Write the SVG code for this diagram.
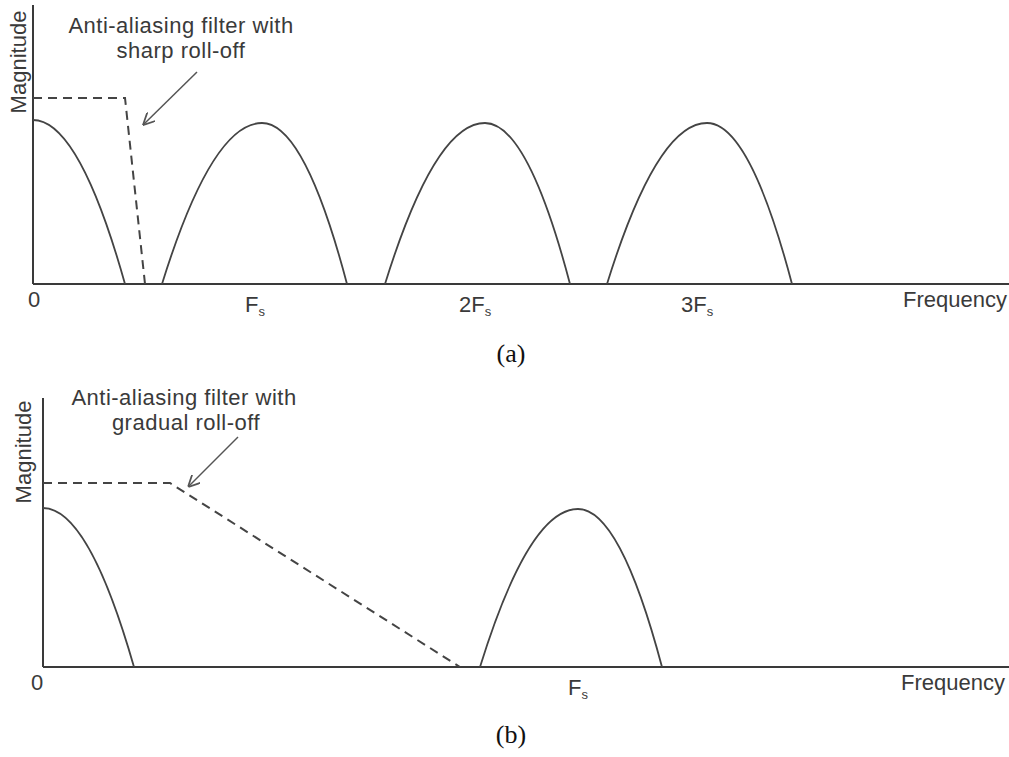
<svg xmlns="http://www.w3.org/2000/svg" width="1009" height="757" viewBox="0 0 1009 757">
<style>
.axis{stroke:#3a3a3a;stroke-width:2;fill:none}
.curve{stroke:#444;stroke-width:1.8;fill:none}
.dash{stroke:#444;stroke-width:2;fill:none;stroke-dasharray:9 6}
.lead{stroke:#555;stroke-width:1.5;fill:none}
.lbl{font-family:"Liberation Sans",Arial,sans-serif;font-size:22px;fill:#3a3a3a}
.note{letter-spacing:0.5px;text-anchor:middle}
.cap{font-family:"Liberation Serif",serif;font-size:26px;fill:#111;text-anchor:middle}
</style>
<defs>
<marker id="open" viewBox="0 0 10 10" refX="10" refY="5" markerWidth="12" markerHeight="12" markerUnits="userSpaceOnUse" orient="auto">
<path d="M0,0 L10,5 L0,10" fill="none" stroke="#555" stroke-width="1.5"/>
</marker>
</defs>
<rect width="1009" height="757" fill="#fff"/>

<g id="panel-a">
<g id="axes-a">
<line class="axis" x1="33" y1="5" x2="33" y2="284"/>
<line class="axis" x1="33" y1="284" x2="1009" y2="284"/>
<text class="lbl" transform="translate(26,62) rotate(-90)" text-anchor="middle">Magnitude</text>
<text class="lbl" x="34" y="307" text-anchor="middle">0</text>
<text class="lbl" x="1007" y="307" text-anchor="end">Frequency</text>
<text class="lbl" x="245" y="312">F<tspan font-size="13" dy="4">s</tspan></text>
<text class="lbl" x="459" y="312">2F<tspan font-size="13" dy="4">s</tspan></text>
<text class="lbl" x="681" y="312">3F<tspan font-size="13" dy="4">s</tspan></text>
</g>
<g id="spectrum-a">
<path class="curve" d="M33,120 Q79,120 125,284"/>
<path class="curve" d="M162,284 Q212,123 262,123 Q304.5,123 347,284"/>
<path class="curve" d="M385,284 Q435,123 485,123 Q527.5,123 570,284"/>
<path class="curve" d="M607,284 Q657,123 707,123 Q749.5,123 792,284"/>
</g>
<g id="filter-a">
<path class="dash" d="M33,98 L125,98 L145,284"/>
</g>
<g id="note-a">
<text class="lbl note" x="181" y="33">Anti-aliasing filter with</text>
<text class="lbl note" x="181" y="58">sharp roll-off</text>
</g>
<text class="cap" x="511" y="362">(a)</text>
</g>

<g id="panel-b">
<g id="axes-b">
<line class="axis" x1="43" y1="398" x2="43" y2="667"/>
<line class="axis" x1="43" y1="667" x2="1009" y2="667"/>
<text class="lbl" transform="translate(31,452) rotate(-90)" text-anchor="middle">Magnitude</text>
<text class="lbl" x="37" y="690" text-anchor="middle">0</text>
<text class="lbl" x="1005" y="690" text-anchor="end">Frequency</text>
<text class="lbl" x="568" y="695">F<tspan font-size="13" dy="4">s</tspan></text>
</g>
<g id="spectrum-b">
<path class="curve" d="M43,508 Q88.5,508 134,667"/>
<path class="curve" d="M480,667 Q529,509 578,509 Q620,509 662,667"/>
</g>
<g id="filter-b">
<path class="dash" d="M43,483 L170,483 L460,667"/>
</g>
<g id="note-b">
<text class="lbl note" x="184" y="405">Anti-aliasing filter with</text>
<text class="lbl note" x="186" y="430">gradual roll-off</text>
</g>
<text class="cap" x="511" y="743">(b)</text>
</g>

<g id="connectors">
<line class="lead" x1="197" y1="72" x2="143" y2="125" marker-end="url(#open)"/>
<line class="lead" x1="238" y1="437" x2="188" y2="487" marker-end="url(#open)"/>
</g>
</svg>
